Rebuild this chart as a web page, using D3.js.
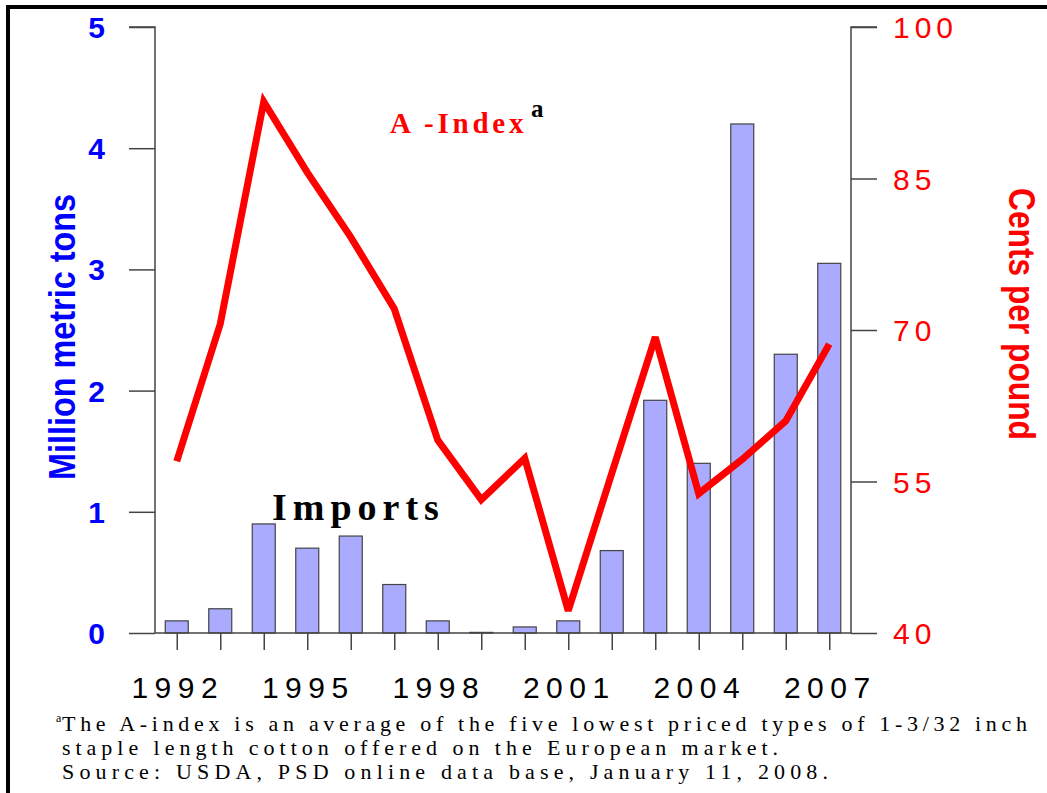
<!DOCTYPE html>
<html>
<head>
<meta charset="utf-8">
<script src="https://cdn.jsdelivr.net/npm/d3@7"></script>
<style>
  body { margin: 0; background: #fff; }
  svg { display: block; }
  .narrow { font-family: "Liberation Sans Narrow", "Arial Narrow", "Liberation Sans", sans-serif; font-weight: bold; }
</style>
</head>
<body>
<svg width="1047" height="793"></svg>
<script>
// data
const years = d3.range(1992, 2008);
const imports = [0.1, 0.2, 0.9, 0.7, 0.8, 0.4, 0.1, 0.005, 0.05, 0.1, 0.68, 1.92, 1.4, 4.2, 2.3, 3.05];
const aIndex = [57.0, 70.6, 92.6, 85.6, 79.2, 72.1, 59.1, 53.2, 57.3, 42.2, 55.8, 69.3, 53.8, 57.2, 61.0, 68.6];
const leftTicks = [0, 1, 2, 3, 4, 5];
const rightTicks = [40, 55, 70, 85, 100];
const yearLabels = [1992, 1995, 1998, 2001, 2004, 2007];
const footnote = [
  'The A-index is an average of the five lowest priced types of 1-3/32 inch',
  'staple length cotton offered on the European market.',
  'Source: USDA, PSD online data base, January 11, 2008.'
];

const svg = d3.select('svg');
const plotLeft = 155, plotRight = 851, plotTop = 27, plotBottom = 633;

// frame
svg.append('path')
    .attr('d', `M8,793 V7 H1047`)
    .attr('fill', 'none')
    .attr('stroke', '#000')
    .attr('stroke-width', 4);

const x = d3.scalePoint().domain(years).range([plotLeft, plotRight]).padding(0.5);
const y = d3.scaleLinear().domain([0, 5]).range([plotBottom, plotTop]);
const y2 = d3.scaleLinear().domain([40, 100]).range([plotBottom, plotTop]);

// bars
svg.selectAll('rect.bar')
    .data(years)
    .enter().append('rect')
    .attr('class', 'bar')
    .attr('x', d => x(d) - 11.5)
    .attr('width', 23)
    .attr('y', (d, i) => y(imports[i]))
    .attr('height', (d, i) => plotBottom - y(imports[i]))
    .attr('fill', '#aaaaff')
    .attr('stroke', '#444')
    .attr('stroke-width', 1.2);

// axes
const axisColor = '#444';
const gl = svg.append('g').attr('transform', `translate(${plotLeft},0)`)
    .call(d3.axisLeft(y).tickValues(leftTicks).tickSize(26).tickFormat(''));
const gr = svg.append('g').attr('transform', `translate(${plotRight},0)`)
    .call(d3.axisRight(y2).tickValues(rightTicks).tickSize(26).tickFormat(''));
const gb = svg.append('g').attr('transform', `translate(0,${plotBottom})`)
    .call(d3.axisBottom(x).tickSize(17).tickSizeOuter(0).tickFormat(''));
[gl, gr, gb].forEach(g => {
  g.select('.domain').attr('stroke', axisColor).attr('stroke-width', 1.5);
  g.selectAll('.tick line').attr('stroke', axisColor).attr('stroke-width', 1.5);
});
gl.select('.domain').attr('d', `M-26,${plotTop}H0V${plotBottom}`);
gr.select('.domain').attr('d', `M26,${plotTop}H0V${plotBottom}`);
gb.select('.domain').attr('d', `M${plotLeft},0H${plotRight}`);

// left tick labels
svg.selectAll('text.lt')
    .data(leftTicks)
    .enter().append('text')
    .attr('x', 105)
    .attr('y', d => y(d) + 11)
    .attr('text-anchor', 'end')
    .attr('font-family', 'Liberation Sans, Arial, sans-serif')
    .attr('font-weight', 'bold')
    .attr('font-size', 30)
    .attr('fill', '#0000ff')
    .text(d => d);

// right tick labels
svg.selectAll('text.rt')
    .data(rightTicks)
    .enter().append('text')
    .attr('x', 893)
    .attr('y', d => y2(d) + 11)
    .attr('font-family', 'Liberation Sans, Arial, sans-serif')
    .attr('font-size', 30)
    .attr('letter-spacing', 5)
    .attr('fill', '#ff0000')
    .text(d => d);

// year labels
svg.selectAll('text.yr')
    .data(yearLabels)
    .enter().append('text')
    .attr('x', d => x(d) + 1)
    .attr('y', 698)
    .attr('text-anchor', 'middle')
    .attr('font-family', 'Liberation Sans, Arial, sans-serif')
    .attr('font-size', 30)
    .attr('letter-spacing', 6.5)
    .attr('fill', '#000')
    .text(d => d);

// axis titles (condensed to the reference length)
svg.append('text')
    .attr('class', 'narrow')
    .attr('transform', 'translate(75,337) rotate(-90)')
    .attr('text-anchor', 'middle')
    .attr('font-size', 37)
    .attr('textLength', 286)
    .attr('lengthAdjust', 'spacingAndGlyphs')
    .attr('fill', '#0000ff')
    .text('Million metric tons');
svg.append('text')
    .attr('class', 'narrow')
    .attr('transform', 'translate(1009,314) rotate(90)')
    .attr('text-anchor', 'middle')
    .attr('font-size', 37)
    .attr('textLength', 252)
    .attr('lengthAdjust', 'spacingAndGlyphs')
    .attr('fill', '#ff0000')
    .text('Cents per pound');

// A-index line
const line = d3.line()
    .x((d, i) => x(years[i]))
    .y(d => y2(d));
svg.append('path')
    .datum(aIndex)
    .attr('d', line)
    .attr('fill', 'none')
    .attr('stroke', '#ff0000')
    .attr('stroke-width', 7)
    .attr('stroke-linejoin', 'miter')
    .attr('stroke-miterlimit', 3);

// labels
svg.append('text')
    .attr('x', 390)
    .attr('y', 133)
    .attr('font-family', 'Liberation Serif, Times New Roman, serif')
    .attr('font-weight', 'bold')
    .attr('font-size', 29)
    .attr('letter-spacing', 4.5)
    .attr('textLength', 138)
    .attr('lengthAdjust', 'spacing')
    .attr('fill', '#ff0000')
    .text('A -Index');
svg.append('text')
    .attr('x', 531)
    .attr('y', 117)
    .attr('font-family', 'Liberation Serif, Times New Roman, serif')
    .attr('font-weight', 'bold')
    .attr('font-size', 25)
    .attr('fill', '#000')
    .text('a');

svg.append('text')
    .attr('x', 272)
    .attr('y', 520)
    .attr('font-family', 'Liberation Serif, Times New Roman, serif')
    .attr('font-weight', 'bold')
    .attr('font-size', 38)
    .attr('letter-spacing', 6)
    .attr('fill', '#000')
    .text('Imports');

// footnote
const fnEnds = [1027, 778, 828];
svg.append('text')
    .attr('x', 56)
    .attr('y', 722)
    .attr('font-family', 'Liberation Serif, Times New Roman, serif')
    .attr('font-size', 12)
    .text('a');
svg.selectAll('text.fn')
    .data(footnote)
    .enter().append('text')
    .attr('x', 62)
    .attr('y', (d, i) => 731 + i * 24)
    .attr('font-family', 'Liberation Serif, Times New Roman, serif')
    .attr('font-size', 22)
    .attr('textLength', (d, i) => fnEnds[i] - 62)
    .attr('lengthAdjust', 'spacing')
    .attr('fill', '#000')
    .text(d => d);
</script>
</body>
</html>
